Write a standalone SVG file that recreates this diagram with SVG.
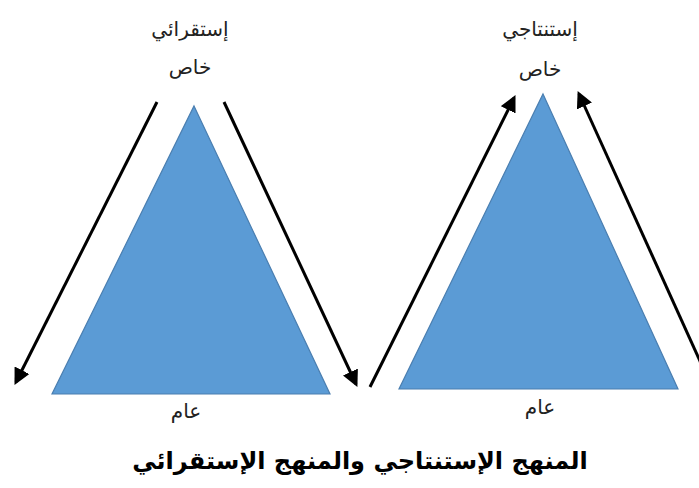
<svg xmlns="http://www.w3.org/2000/svg" width="699" height="488" viewBox="0 0 699 488">
<style>
.tri{fill:#5B9BD5;stroke:#4A7EB0;stroke-width:1.2}
.arr{stroke:#000;stroke-width:3;fill:none;marker-end:url(#ah)}
.lbl{font-family:"DejaVu Sans",sans-serif;font-size:20px;fill:#222;text-anchor:middle}
.ttl{font-family:"DejaVu Sans",sans-serif;font-size:24px;font-weight:bold;fill:#000;text-anchor:middle}
</style>
<defs>
<marker id="ah" viewBox="0 0 10 10" refX="8" refY="5" markerWidth="5.5" markerHeight="5.5" orient="auto" markerUnits="strokeWidth">
<path d="M0,0 L10,5 L0,10 z" fill="#000"/>
</marker>
</defs>
<rect width="699" height="488" fill="#fff"/>
<g id="tri-induction"><polygon class="tri" points="194,106 330,394 52,394"/></g>
<g id="tri-deduction"><polygon class="tri" points="543,94 678,389 399,389"/></g>
<g id="connectors">
<line class="arr" x1="157" y1="102" x2="16" y2="382"/>
<line class="arr" x1="224" y1="102" x2="356" y2="384"/>
<line class="arr" x1="370" y1="387" x2="514" y2="98"/>
<line class="arr" x1="705" y1="372" x2="579" y2="94"/>
</g>
<g id="labels">
<text class="lbl" x="190" y="36">إستقرائي</text>
<text class="lbl" x="190" y="74">خاص</text>
<text class="lbl" x="540" y="36">إستنتاجي</text>
<text class="lbl" x="540" y="76">خاص</text>
<text class="lbl" x="186" y="418">عام</text>
<text class="lbl" x="540" y="414">عام</text>
<text class="ttl" x="360" y="469">المنهج الإستنتاجي والمنهج الإستقرائي</text>
</g>
</svg>
